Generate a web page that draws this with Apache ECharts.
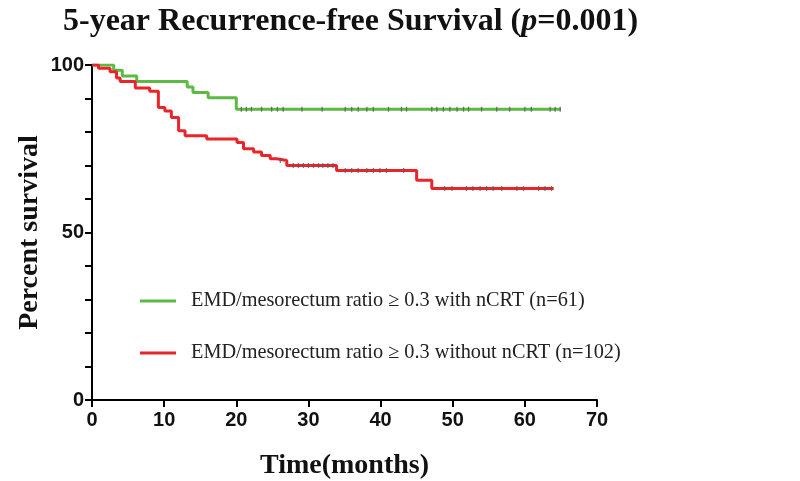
<!DOCTYPE html>
<html>
<head>
<meta charset="utf-8">
<script src="https://cdn.jsdelivr.net/npm/echarts@6/dist/echarts.min.js"></script>
<style>html,body{margin:0;padding:0;background:#fff}#c{width:800px;height:481px}</style>
</head>
<body>
<div id="c"></div>
<script>
var seriesNames = ['EMD/mesorectum ratio \u2265 0.3 with nCRT (n=61)', 'EMD/mesorectum ratio \u2265 0.3 without nCRT (n=102)'];
var greenTimes = [0, 3.0, 4.2, 6.2, 13.2, 14.0, 16.1, 20.0, 65.0];
var greenSurv  = [100, 98.4, 96.7, 95.1, 93.4, 91.8, 90.2, 86.8, 86.8];
var greenCensor = [20.7, 21.4, 22.1, 23.5, 24.9, 25.7, 26.5, 29.1, 31.9, 35.1, 36.0, 36.9, 38.1, 39.0, 41.1, 42.9, 43.6, 47.1, 47.8, 48.7, 49.6, 50.6, 51.5, 52.2, 54.0, 56.1, 57.9, 60.0, 60.9, 63.5, 64.2, 64.9];
var redTimes = [0, 0.9, 2.5, 3.4, 3.9, 6.0, 8.0, 9.2, 10.1, 11.0, 12.0, 12.9, 15.9, 20.1, 21.0, 22.4, 23.5, 24.7, 25.6, 27.0, 33.9, 45.0, 47.1, 64.0];
var redSurv  = [100, 99.0, 98.0, 96.1, 95.1, 93.1, 92.2, 87.3, 86.3, 84.3, 80.4, 78.9, 77.9, 76.9, 75.0, 74.0, 73.0, 72.0, 71.5, 70.0, 68.5, 65.6, 63.1, 63.1];
var redCensor = [26.1, 27.9, 28.6, 29.3, 30.0, 30.7, 31.4, 32.0, 32.7, 33.4, 35.1, 36.0, 36.9, 38.1, 39.0, 39.9, 40.8, 43.2, 48.9, 49.9, 51.9, 52.8, 53.8, 54.7, 55.6, 56.8, 58.9, 59.8, 61.9, 62.8, 63.7];
var xTicks = [0, 10, 20, 30, 40, 50, 60, 70];
var yLabels = [0, 50, 100];

var GREEN = '#5cb944', RED = '#e8262a';
function pairs(t, s) { return t.map(function (v, i) { return [v, s[i]]; }); }
function lookup(t, s, x) { var v = s[0]; for (var i = 0; i < t.length; i++) { if (t[i] <= x) v = s[i]; } return v; }
function censorPts(c, t, s) { return c.map(function (x) { return [x, lookup(t, s, x)]; }); }

var chart = echarts.init(document.getElementById('c'), null, { renderer: 'canvas' });
chart.setOption({
  animation: false,
  backgroundColor: '#fff',
  title: {
    text: '{b|5-year Recurrence-free Survival (}{i|p}{b|=0.001)}',
    left: 58, top: 1,
    textStyle: {
      rich: {
        b: { fontFamily: 'Liberation Serif', fontWeight: 'bold', fontSize: 32, color: '#111' },
        i: { fontFamily: 'Liberation Serif', fontWeight: 'bold', fontStyle: 'italic', fontSize: 32, color: '#111' }
      }
    }
  },
  legend: {
    orient: 'vertical', left: 135, top: 286, itemGap: 32,
    itemWidth: 36, itemHeight: 3, icon: 'rect',
    data: seriesNames,
    textStyle: { fontFamily: 'Liberation Serif', fontSize: 20.3, color: '#222', padding: [0, 0, 0, 10] }
  },
  grid: { left: 92, right: 203, top: 65, bottom: 81, containLabel: false, outerBoundsMode: 'none' },
  xAxis: {
    type: 'value', min: 0, max: 70, interval: 10,
    name: 'Time(months)', nameLocation: 'middle', nameGap: 52, nameMoveOverlap: false,
    nameTextStyle: { fontFamily: 'Liberation Serif', fontWeight: 'bold', fontSize: 28, color: '#111' },
    axisLine: { lineStyle: { color: '#000', width: 2 } },
    axisTick: { inside: false, length: 7, lineStyle: { color: '#000', width: 2 } },
    axisLabel: { fontFamily: 'Liberation Sans', fontWeight: 'bold', fontSize: 20, color: '#111', margin: 10,
      formatter: function (v) { return xTicks.indexOf(v) >= 0 ? String(v) : ''; } },
    splitLine: { show: false }
  },
  yAxis: {
    type: 'value', min: 0, max: 100, interval: 10,
    name: 'Percent survival', nameLocation: 'middle', nameGap: 48, nameMoveOverlap: false,
    nameTextStyle: { fontFamily: 'Liberation Serif', fontWeight: 'bold', fontSize: 28, color: '#111' },
    axisLine: { show: true, lineStyle: { color: '#000', width: 2 } },
    axisTick: { show: true, inside: false, length: 7, lineStyle: { color: '#000', width: 2 } },
    axisLabel: { fontFamily: 'Liberation Sans', fontWeight: 'bold', fontSize: 20, color: '#111', margin: 8,
      formatter: function (v) { return yLabels.indexOf(v) >= 0 ? String(v) : ''; } },
    splitLine: { show: false }
  },
  series: [
    { name: seriesNames[0], type: 'line', step: 'end', data: pairs(greenTimes, greenSurv), showSymbol: false,
      lineStyle: { color: GREEN, width: 3 }, itemStyle: { color: GREEN }, z: 3 },
    { name: seriesNames[1], type: 'line', step: 'end', data: pairs(redTimes, redSurv), showSymbol: false,
      lineStyle: { color: RED, width: 3 }, itemStyle: { color: RED }, z: 3 },
    { type: 'scatter', data: censorPts(greenCensor, greenTimes, greenSurv), symbol: 'rect', symbolSize: [1.3, 5],
      itemStyle: { color: '#5a5a5a' }, z: 4, silent: true },
    { type: 'scatter', data: censorPts(redCensor, redTimes, redSurv), symbol: 'rect', symbolSize: [1.3, 5],
      itemStyle: { color: '#5a5a5a' }, z: 4, silent: true }
  ]
});
</script>
</body>
</html>
